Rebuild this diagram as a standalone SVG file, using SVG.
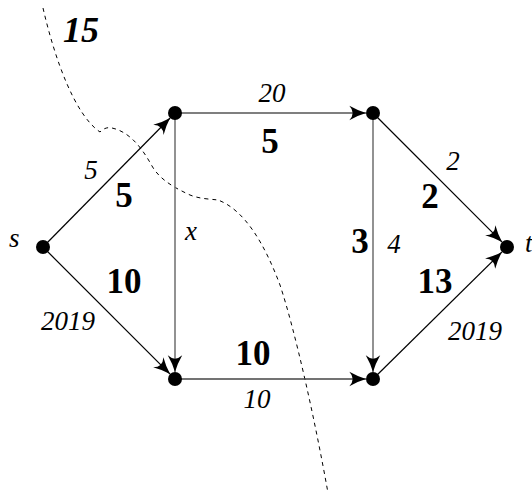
<svg xmlns="http://www.w3.org/2000/svg" width="532" height="494" viewBox="0 0 532 494">
<style>
.e{stroke:#000;stroke-width:1.2;fill:none}
.g{stroke:#777;stroke-width:1.6;fill:none}
.h{stroke:#444;stroke-width:1.6;fill:none}
.n{fill:#000}
.it{font-family:'Liberation Serif','Times New Roman',serif;font-style:italic;font-size:27px;fill:#000}
.bd{font-family:'Liberation Serif','Times New Roman',serif;font-weight:bold;font-size:35px;fill:#000}
.cut{stroke:#000;stroke-width:1;fill:none;stroke-dasharray:4,4}
</style>
<defs>
<marker id="arr" markerUnits="userSpaceOnUse" markerWidth="20" markerHeight="20" viewBox="-16 -8 18 16" refX="0" refY="0" orient="auto">
<path d="M0,0 Q-7,-2 -15,-6.5 Q-9,0 -15,6.5 Q-7,2 0,0 Z" fill="#000"/>
</marker>
</defs>
<path class="cut" d="M43,8 C55,60 75,115 100,132 C104,128 108,127 112,128 C130,132 142,148 152,166 C160,180 175,188 190,195 C200,199 210,199 218,200 C245,210 265,245 280,285 C295,330 315,420 328,493"/>
<g id="connectors">
<line class="e" x1="43" y1="247" x2="170.1" y2="118" marker-end="url(#arr)"/>
<line class="e" x1="43" y1="247" x2="170.05" y2="374.05" marker-end="url(#arr)"/>
<line class="e" x1="175" y1="113" x2="366" y2="113" marker-end="url(#arr)"/>
<line class="g" x1="175" y1="113" x2="175" y2="372" marker-end="url(#arr)"/>
<line class="g" x1="373" y1="113" x2="373" y2="372" marker-end="url(#arr)"/>
<line class="h" x1="175" y1="379" x2="366" y2="379" marker-end="url(#arr)"/>
<line class="e" x1="373" y1="113" x2="502.05" y2="242.05" marker-end="url(#arr)"/>
<line class="e" x1="373" y1="379" x2="502" y2="251.9" marker-end="url(#arr)"/>
</g>
<g id="s"><circle class="n" cx="43" cy="247" r="7"/><text class="it" x="9" y="247">s</text></g>
<g id="a"><circle class="n" cx="175" cy="113" r="7"/></g>
<g id="b"><circle class="n" cx="373" cy="113" r="7"/></g>
<g id="c"><circle class="n" cx="175" cy="379" r="7"/></g>
<g id="d"><circle class="n" cx="373" cy="379" r="7"/></g>
<g id="t"><circle class="n" cx="507" cy="247" r="7"/><text class="it" x="525" y="252">t</text></g>
<g id="labels">
<text x="63" y="42" font-family="'Liberation Serif','Times New Roman',serif" font-weight="bold" font-style="italic" font-size="36">15</text>
<text class="it" x="91" y="179" text-anchor="middle">5</text>
<text class="bd" x="124" y="207" text-anchor="middle">5</text>
<text class="bd" x="124" y="293" text-anchor="middle">10</text>
<text class="it" x="68" y="330" text-anchor="middle">2019</text>
<text class="it" x="191" y="240" text-anchor="middle">x</text>
<text class="it" x="272" y="102" text-anchor="middle">20</text>
<text class="bd" x="270" y="153" text-anchor="middle">5</text>
<text class="bd" x="253" y="365" text-anchor="middle">10</text>
<text class="it" x="257" y="408" text-anchor="middle">10</text>
<text class="bd" x="360" y="253" text-anchor="middle">3</text>
<text class="it" x="394" y="253" text-anchor="middle">4</text>
<text class="it" x="453" y="170" text-anchor="middle">2</text>
<text class="bd" x="430" y="208" text-anchor="middle">2</text>
<text class="bd" x="435" y="293" text-anchor="middle">13</text>
<text class="it" x="475" y="340" text-anchor="middle">2019</text>
</g>
</svg>
